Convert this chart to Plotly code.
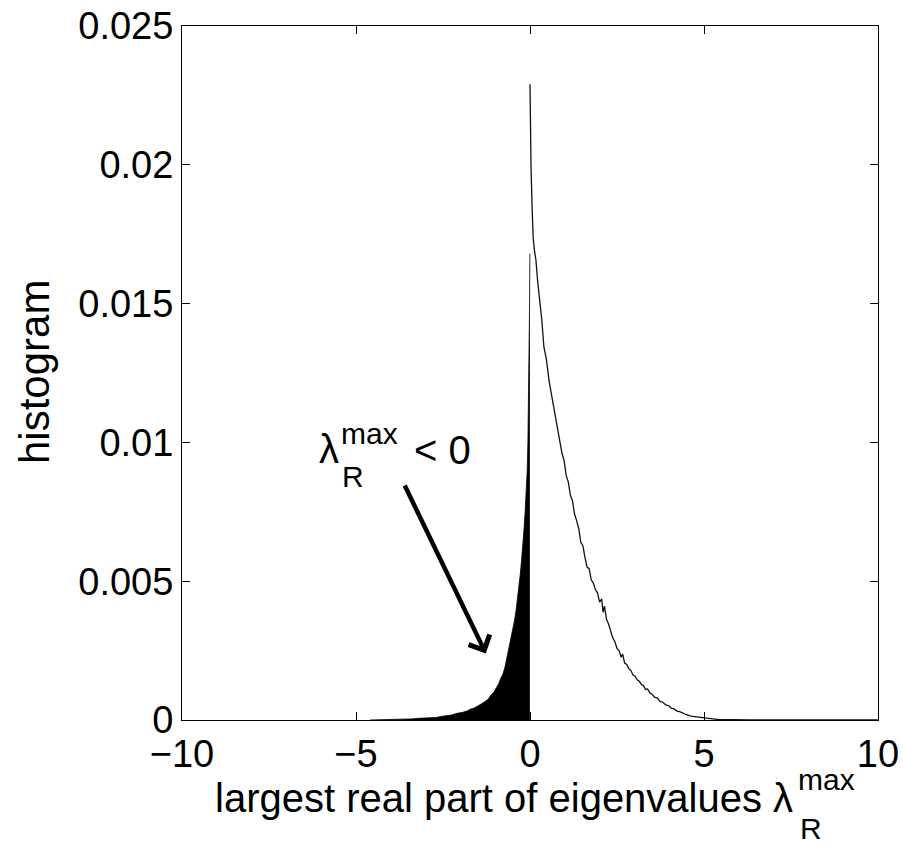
import plotly.graph_objects as go

# ---- data ----
# positive side (drawn as a line)
pos_x = [0.0, 0.005, 0.01, 0.03, 0.06, 0.09, 0.13, 0.17, 0.22, 0.28, 0.34, 0.40, 0.47,
         0.55, 0.63, 0.71, 0.79, 0.86, 0.92, 0.98, 1.04, 1.10, 1.16, 1.22, 1.28, 1.34,
         1.40, 1.46, 1.52, 1.58, 1.64, 1.70, 1.76, 1.82, 1.88, 1.94, 2.00, 2.06, 2.10,
         2.14, 2.20, 2.26, 2.32, 2.38, 2.44, 2.50, 2.56, 2.62, 2.66, 2.72, 2.78, 2.84,
         2.90, 2.96, 3.02, 3.08, 3.14, 3.20, 3.26, 3.32, 3.38, 3.44, 3.50, 3.58, 3.66,
         3.74, 3.82, 3.90, 3.98, 4.06, 4.14, 4.22, 4.30, 4.40, 4.50, 4.62, 4.74, 4.86,
         4.98, 5.10, 5.25, 5.40, 5.60, 5.90, 6.30, 10.0]
pos_y = [0.0229, 0.0222, 0.0212, 0.0199, 0.0185, 0.0174, 0.0169, 0.01657, 0.0158, 0.0151,
         0.0144, 0.01343, 0.0130, 0.0122, 0.01163, 0.0110, 0.0104, 0.00998, 0.00960,
         0.00935, 0.00880, 0.00858, 0.00810, 0.00790, 0.00742, 0.00718, 0.00690,
         0.00640, 0.00628, 0.00585, 0.00551, 0.00545, 0.00505, 0.00493, 0.00470,
         0.00458, 0.00425, 0.00436, 0.00388, 0.00410, 0.00362, 0.00345, 0.00318,
         0.00295, 0.00282, 0.00258, 0.00250, 0.00226, 0.00238, 0.00205, 0.00200,
         0.00185, 0.00178, 0.00162, 0.00158, 0.00145, 0.00140, 0.00128, 0.00124,
         0.00110, 0.00112, 0.00098, 0.00094, 0.00082, 0.00079, 0.00066, 0.00064,
         0.00054, 0.00052, 0.00043, 0.00040, 0.00032, 0.00030, 0.00023, 0.00019,
         0.00014, 0.00012, 0.00008, 0.00007, 0.00004, 0.00004, 0.00002, 0.00001,
         0.00001, 0.0, 0.0]

# negative side (drawn filled)
neg_x = [-4.6, -4.2, -4.0, -3.8, -3.6, -3.4, -3.2, -3.0, -2.85, -2.7, -2.55, -2.4, -2.25,
         -2.1, -1.95, -1.8, -1.7, -1.6, -1.5, -1.4, -1.3, -1.2, -1.12, -1.04, -0.96,
         -0.9, -0.84, -0.78, -0.72, -0.66, -0.6, -0.55, -0.5, -0.45, -0.4, -0.36, -0.32,
         -0.28, -0.24, -0.2, -0.17, -0.14, -0.11, -0.08, -0.06, -0.04, -0.025, -0.012,
         -0.004, 0.0]
neg_y = [0.0, 0.00001, 0.00002, 0.00001, 0.00003, 0.00004, 0.00006, 0.00007, 0.00010,
         0.00009, 0.00013, 0.00016, 0.00018, 0.00024, 0.00027, 0.00033, 0.00040,
         0.00043, 0.00052, 0.00058, 0.00066, 0.00075, 0.00090, 0.00100, 0.00118,
         0.00130, 0.00150, 0.00165, 0.00190, 0.00225, 0.00260, 0.00285, 0.00320,
         0.00355, 0.00395, 0.00435, 0.00475, 0.00525, 0.00580, 0.00630, 0.00690,
         0.00750, 0.00820, 0.00900, 0.0100, 0.0115, 0.0130, 0.0150, 0.0168, 0.0168]

x_tickvals = [-10, -5, 0, 5, 10]
x_ticktext = ["\u221210", "\u22125", "0", "5", "10"]
y_tickvals = [0, 0.005, 0.01, 0.015, 0.02, 0.025]
y_ticktext = ["0", "0.005", "0.01", "0.015", "0.02", "0.025"]

FONT = "Liberation Sans, Arial, sans-serif"
BIG = 40
TICK = 38
SMALL = 30

fig = go.Figure()
fig.add_trace(go.Scatter(x=neg_x, y=neg_y, mode="lines", fill="tozeroy",
                         fillcolor="black", line=dict(color="black", width=0.8),
                         showlegend=False, hoverinfo="skip"))
fig.add_trace(go.Scatter(x=pos_x, y=pos_y, mode="lines",
                         line=dict(color="#111111", width=1.3),
                         showlegend=False, hoverinfo="skip"))

L, R, T, B = 182, 25, 26, 142
W, H = 903, 862
PW, PH = W - L - R, H - T - B


def px(xp):
    return (xp - L) / PW


def py(yp):
    return (H - B - yp) / PH


ann = []
# label near arrow: lambda_R^max < 0
ann.append(dict(text="λ", x=px(317), y=py(449), xanchor="left", yanchor="middle",
                font=dict(size=BIG, family=FONT, color="black")))
ann.append(dict(text="max", x=px(339), y=py(433), xanchor="left", yanchor="middle",
                font=dict(size=SMALL, family=FONT, color="black")))
ann.append(dict(text="R", x=px(340), y=py(476), xanchor="left", yanchor="middle",
                font=dict(size=SMALL, family=FONT, color="black")))
ann.append(dict(text="< 0", x=px(412), y=py(450), xanchor="left", yanchor="middle",
                font=dict(size=BIG, family=FONT, color="black")))
# arrow
ann.append(dict(x=-1.27, y=0.0024, ax=-3.62, ay=0.0085, xref="x", yref="y",
                axref="x", ayref="y", showarrow=True, arrowhead=4, arrowsize=1.0,
                arrowwidth=4.5, arrowcolor="black", text=""))
# x-axis title
ann.append(dict(text="largest real part of eigenvalues λ", x=px(795), y=py(798),
                xanchor="right", yanchor="middle",
                font=dict(size=BIG, family=FONT, color="black")))
ann.append(dict(text="max", x=px(796), y=py(779), xanchor="left", yanchor="middle",
                font=dict(size=SMALL, family=FONT, color="black")))
ann.append(dict(text="R", x=px(798), y=py(828), xanchor="left", yanchor="middle",
                font=dict(size=SMALL, family=FONT, color="black")))
# y-axis title
ann.append(dict(text="histogram", x=px(34), y=py(372), xanchor="center", yanchor="middle",
                textangle=-90, font=dict(size=42, family=FONT, color="black")))

for a in ann:
    a.setdefault("xref", "paper")
    a.setdefault("yref", "paper")
    a.setdefault("showarrow", False)

fig.update_layout(
    template="none",
    width=W, height=H,
    margin=dict(l=L, r=R, t=T, b=B, pad=0, autoexpand=False),
    paper_bgcolor="white", plot_bgcolor="white",
    font=dict(family=FONT, size=TICK, color="black"),
    annotations=ann,
    xaxis=dict(range=[-10, 10], tickvals=x_tickvals, ticktext=x_ticktext,
               ticks="inside", ticklen=8, tickwidth=1, tickcolor="black",
               showline=True, linecolor="black", linewidth=1, mirror="ticks",
               showgrid=False, zeroline=False, automargin=False,
               tickfont=dict(size=TICK, family=FONT, color="black")),
    yaxis=dict(range=[0, 0.025], tickvals=y_tickvals, ticktext=y_ticktext,
               ticks="inside", ticklen=8, tickwidth=1, tickcolor="black",
               showline=True, linecolor="black", linewidth=1, mirror="ticks",
               showgrid=False, zeroline=False, automargin=False,
               tickfont=dict(size=TICK, family=FONT, color="black")),
)

fig.write_html("out.html")
